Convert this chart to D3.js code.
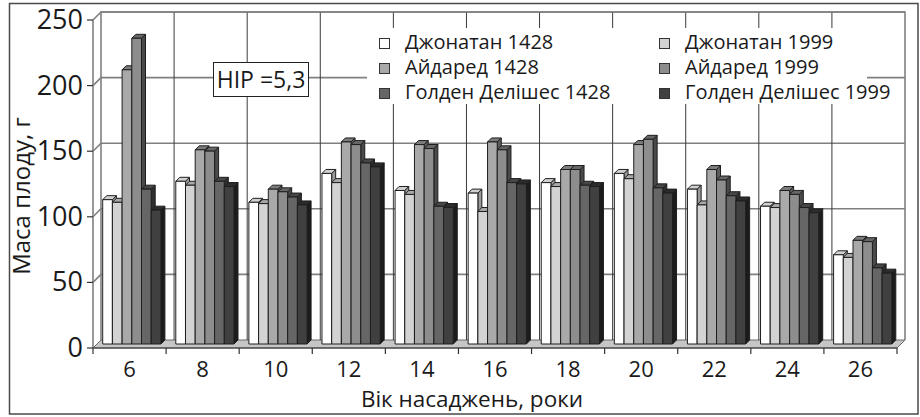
<!doctype html>
<html lang="uk">
<head>
<meta charset="UTF-8">
<title>Маса плоду</title>
<style>
    body { margin: 0; background: #fff; }
    svg text { font-family: "Open Sans", "Noto Sans", sans-serif; fill: #1a1a1a; }
</style>
</head>
<body>
<svg id="chart" width="920" height="417"></svg>
<script src="https://cdn.jsdelivr.net/npm/d3@7"></script>
<script>
    // вік насаджень, роки
    var ages = [6, 8, 10, 12, 14, 16, 18, 20, 22, 24, 26];
    var seriesNames = ['Джонатан 1428', 'Джонатан 1999', 'Айдаред 1428',
                       'Айдаред 1999', 'Голден Делішес 1428', 'Голден Делішес 1999'];
    // маса плоду, г
    var jonathan1428 = [110, 124, 108, 130, 117, 115, 123, 130, 118, 105, 68];
    var jonathan1999 = [108, 121, 107, 123, 114, 101, 120, 126, 106, 104, 66];
    var idared1428   = [209, 148, 118, 154, 152, 154, 133, 152, 133, 117, 79];
    var idared1999   = [233, 147, 116, 152, 149, 148, 133, 156, 125, 114, 78];
    var golden1428   = [118, 124, 112, 138, 105, 123, 121, 119, 113, 104, 58];
    var golden1999   = [102, 120, 106, 135, 104, 122, 120, 115, 109, 100, 54];
    var yTicks = [0, 50, 100, 150, 200, 250];
    var series = [jonathan1428, jonathan1999, idared1428, idared1999, golden1428, golden1999];

    var front = ['#ffffff', '#d3d3d3', '#a9a9a9', '#8d8d8d', '#666666', '#404040'];
    var top_ = ['#d0d0d0', '#a8a8a8', '#7c7c7c', '#666666', '#474747', '#2c2c2c'];
    var side = ['#9a9a9a', '#808080', '#5c5c5c', '#4a4a4a', '#2e2e2e', '#1c1c1c'];

    var svg = d3.select('#chart');
    var wallD = 8, barD = 4, barFront = 4;

    var x = d3.scaleBand().domain(ages).range([93, 897]);
    var inner = d3.scaleBand().domain(d3.range(6)).range([5.7, 5.7 + 58.2]);
    var y = d3.scaleLinear().domain([0, 250]).range([348, 20]);

    // рамка
    svg.append('rect').attr('x', 9.5).attr('y', 3.5).attr('width', 908.5).attr('height', 410.5)
        .attr('fill', '#fff').attr('stroke', '#4a4a4a').attr('stroke-width', 1.5);

    var x0 = x.range()[0], x1 = x.range()[1];

    // підлога
    svg.append('polygon')
        .attr('points', [[x0, y(0)], [x1, y(0)], [x1 + wallD, y(0) - wallD], [x0 + wallD, y(0) - wallD]].join(' '))
        .attr('fill', '#c6c6c6').attr('stroke', '#6a6a6a').attr('stroke-width', 1);

    // горизонтальна сітка (задня і бічна стінки)
    svg.selectAll('.hgrid').data(yTicks.slice(1)).enter().append('path')
        .attr('d', function(d) {
            return 'M' + x0 + ',' + y(d) + 'L' + (x0 + wallD) + ',' + (y(d) - wallD) +
                   'L' + (x1 + wallD) + ',' + (y(d) - wallD);
        })
        .attr('fill', 'none').attr('stroke', '#808080').attr('stroke-width', 1.6);

    // вертикальна сітка на задній стінці
    var bounds = ages.map(function(a) { return x(a); }).slice(1);
    svg.selectAll('.vgrid').data(bounds).enter().append('line')
        .attr('x1', function(d) { return d + wallD; }).attr('x2', function(d) { return d + wallD; })
        .attr('y1', y(250) - wallD).attr('y2', y(0) - wallD)
        .attr('stroke', '#3a3a3a').attr('stroke-width', 1);

    // краї стінок
    svg.append('path')
        .attr('d', 'M' + (x0 + wallD) + ',' + (y(0) - wallD) + 'V' + (y(250) - wallD) +
                   'H' + (x1 + wallD) + 'V' + (y(0) - wallD))
        .attr('fill', 'none').attr('stroke', '#808080').attr('stroke-width', 1.6);

    // вісь Y
    svg.append('line').attr('x1', x0).attr('x2', x0).attr('y1', y(0)).attr('y2', y(250))
        .attr('stroke', '#808080').attr('stroke-width', 1.6);
    svg.selectAll('.ytick').data(yTicks).enter().append('line')
        .attr('x1', x0 - 6).attr('x2', x0).attr('y1', y).attr('y2', y)
        .attr('stroke', '#333').attr('stroke-width', 1.2);
    svg.selectAll('.ylab').data(yTicks).enter().append('text')
        .attr('x', 83).attr('y', function(d) { return y(d) + 9; })
        .attr('text-anchor', 'end').attr('font-size', 27).text(function(d) { return d; });

    // стовпчики
    ages.forEach(function(a, i) {
        series.forEach(function(vals, s) {
            var bx = x(a) + inner(s) + barFront, bw = inner.bandwidth();
            var yt = y(vals[i]) - barFront, yb = y(0) - barFront;
            var g = svg.append('g').attr('stroke', '#1e1e1e').attr('stroke-width', 1)
                .attr('stroke-linejoin', 'round');
            g.append('polygon')
                .attr('points', [[bx + bw, yt], [bx + bw + barD, yt - barD], [bx + bw + barD, yb - barD], [bx + bw, yb]].join(' '))
                .attr('fill', side[s]);
            g.append('polygon')
                .attr('points', [[bx, yt], [bx + bw, yt], [bx + bw + barD, yt - barD], [bx + barD, yt - barD]].join(' '))
                .attr('fill', top_[s]);
            g.append('rect').attr('x', bx).attr('y', yt).attr('width', bw).attr('height', yb - yt)
                .attr('fill', front[s]);
        });
    });

    // вісь X
    svg.append('line').attr('x1', x0).attr('x2', x1).attr('y1', y(0)).attr('y2', y(0))
        .attr('stroke', '#333').attr('stroke-width', 1.2);
    svg.selectAll('.xtick').data([x0].concat(bounds, [x1])).enter().append('line')
        .attr('x1', function(d) { return d; }).attr('x2', function(d) { return d; })
        .attr('y1', y(0)).attr('y2', y(0) + 6)
        .attr('stroke', '#333').attr('stroke-width', 1.2);
    svg.selectAll('.xlab').data(ages).enter().append('text')
        .attr('x', function(d) { return x(d) + x.bandwidth() / 2; }).attr('y', 377)
        .attr('text-anchor', 'middle').attr('font-size', 22).text(function(d) { return d; });

    // назви осей
    svg.append('text').attr('x', 472).attr('y', 407).attr('text-anchor', 'middle')
        .attr('font-size', 22.5).text('Вік насаджень, роки');
    svg.append('text').attr('transform', 'translate(30,196) rotate(-90)').attr('text-anchor', 'middle')
        .attr('font-size', 24).text('Маса плоду, г');

    // НІР
    svg.append('rect').attr('x', 213.5).attr('y', 62.5).attr('width', 95).attr('height', 34)
        .attr('fill', '#fff').attr('stroke', '#222').attr('stroke-width', 1);
    svg.append('text').attr('x', 261).attr('y', 88).attr('text-anchor', 'middle')
        .attr('font-size', 23).text('HIP =5,3');

    // легенда
    svg.append('rect').attr('x', 367).attr('y', 28).attr('width', 500).attr('height', 76).attr('fill', '#fff');
    var leg = svg.selectAll('.leg').data(seriesNames).enter().append('g')
        .attr('transform', function(d, i) {
            var col = i % 2, row = Math.floor(i / 2);
            return 'translate(' + (col ? 659 : 379) + ',' + (49 + row * 25) + ')';
        });
    leg.append('rect').attr('x', 0.5).attr('y', -10.5).attr('width', 10).attr('height', 10)
        .attr('fill', function(d, i) { return front[i]; }).attr('stroke', '#333').attr('stroke-width', 1);
    leg.append('text').attr('x', 26).attr('y', 0).attr('font-size', 20).text(function(d) { return d; });
</script>
</body>
</html>
